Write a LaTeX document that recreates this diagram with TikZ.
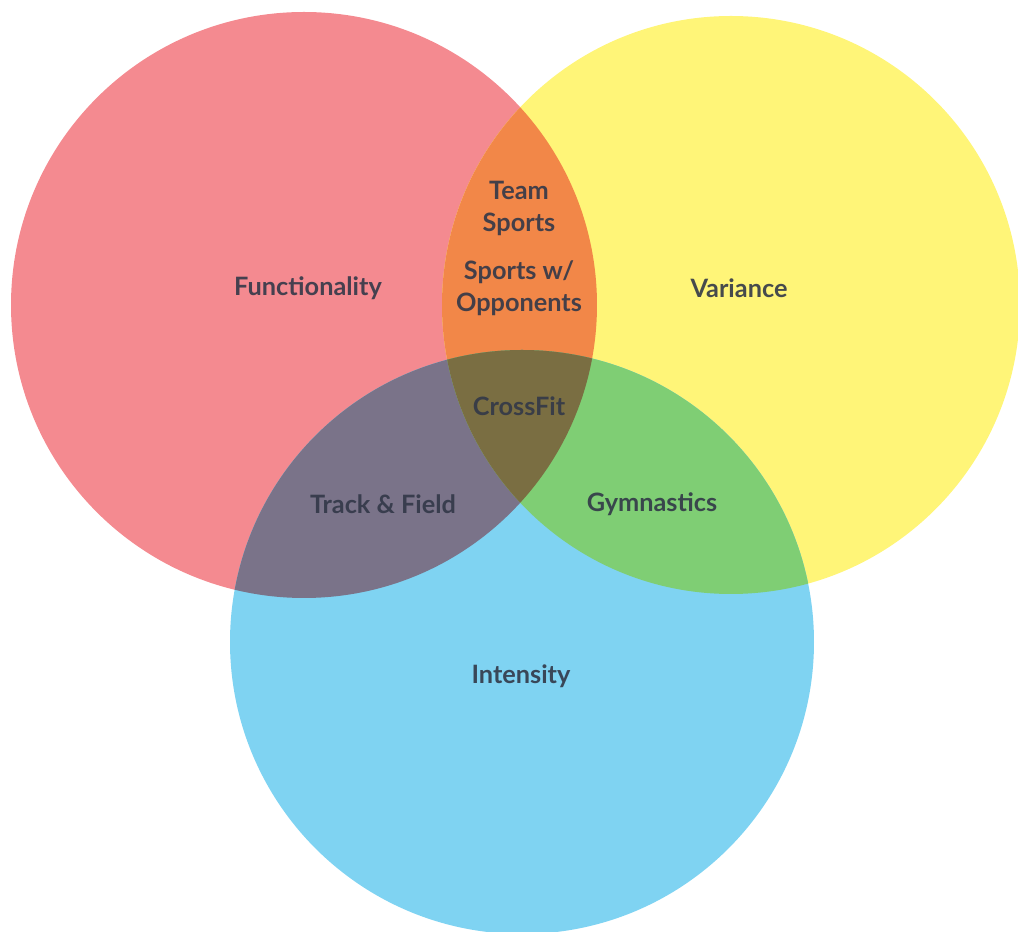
\documentclass[tikz,border=0pt]{standalone}
\usepackage{fontspec}
\setmainfont{Lato}
\usepackage{tikz}
\usetikzlibrary{positioning}
\definecolor{vnred}{RGB}{244,138,144}
\definecolor{vnyellow}{RGB}{255,245,120}
\definecolor{vnblue}{RGB}{127,211,242}
\definecolor{vnorange}{RGB}{242,135,72}
\definecolor{vnpurple}{RGB}{122,115,137}
\definecolor{vngreen}{RGB}{127,206,116}
\definecolor{vnolive}{RGB}{122,110,66}
\definecolor{vntext}{RGB}{50,56,72}
\tikzstyle{setname} = [font=\fontsize{7.2}{9.1}\selectfont\bfseries, text=vntext, text opacity=0.9, align=center, inner sep=0pt]

\begin{document}
\begin{tikzpicture}
\useasboundingbox (0,0) rectangle (10.18,9.32);

% Sets
\fill[vnred] (3.04,6.27) circle (2.93);
\fill[vnyellow] (7.31,6.27) circle (2.89);
\fill[vnblue] (5.22,2.90) circle (2.92);

% Overlaps of two sets
\begin{scope}
\clip (3.04,6.27) circle (2.93);
\fill[vnorange] (7.31,6.27) circle (2.89);
\fill[vnpurple] (5.22,2.90) circle (2.92);
\end{scope}
\begin{scope}
\clip (7.31,6.27) circle (2.89);
\fill[vngreen] (5.22,2.90) circle (2.92);
\end{scope}

% Overlap of all three
\begin{scope}
\clip (3.04,6.27) circle (2.93);
\clip (7.31,6.27) circle (2.89);
\fill[vnolive] (5.22,2.90) circle (2.92);
\end{scope}

% Labels
\node[setname] (func) at (3.08,6.44) {Functionality};
\node[setname] (var) at (7.39,6.44) {Variance};
\node[setname] (inten) at (5.21,2.56) {Intensity};
\node[setname] (team) at (5.19,7.24) {Team\\Sports};
\node[setname] (opp) at (5.19,6.44) {Sports w/\\Opponents};
\node[setname] (cross) at (5.19,5.26) {CrossFit};
\node[setname] (track) at (3.83,4.28) {Track \& Field};
\node[setname] (gym) at (6.52,4.28) {Gymnastics};
\end{tikzpicture}
\end{document}
